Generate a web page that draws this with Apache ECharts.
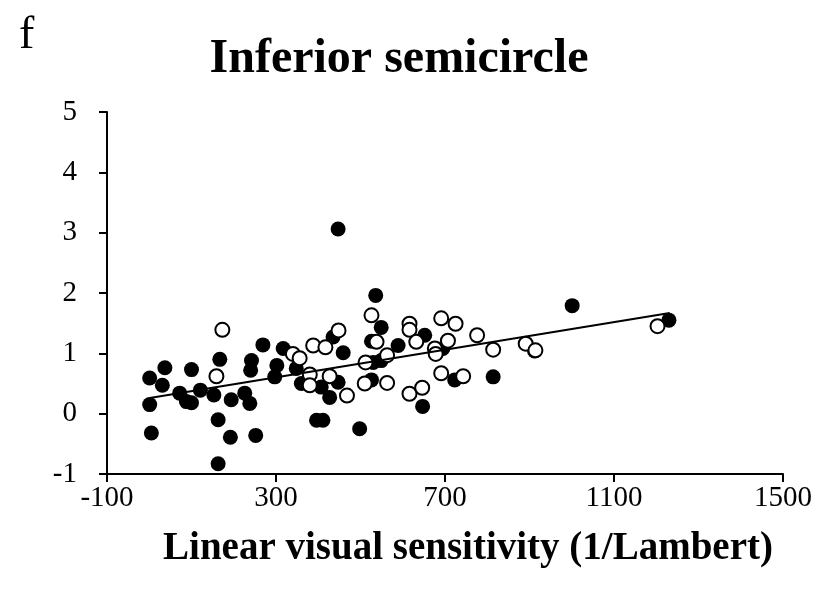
<!DOCTYPE html>
<html>
<head>
<meta charset="utf-8">
<script src="https://cdn.jsdelivr.net/npm/echarts@6/dist/echarts.min.js"></script>
<style>
  html, body { margin: 0; padding: 0; background: #fff; }
  #chart { width: 837px; height: 589px; }
</style>
</head>
<body>
<div id="chart"></div>
<script>
// filled circles
const filledX = [1, 37, 31, 1, 5, 100, 72, 88, 100, 121, 167, 153, 163, 192, 163, 194, 226, 238, 242, 240,
  252, 269, 302, 297, 317, 348, 360, 407, 447, 427, 396, 411, 498, 435, 459, 447, 536, 549, 526, 589,
  530, 549, 652, 695, 526, 647, 723, 814, 1001, 1230, 912]
const filledY = [0.59, 0.76, 0.47, 0.15, -0.32, 0.73, 0.34, 0.20, 0.18, 0.39, 0.90, 0.31, -0.10, -0.39, -0.83, 0.23, 0.34, 0.17, 0.88, 0.72,
  -0.36, 1.14, 0.80, 0.61, 1.08, 0.75, 0.50, 0.44, 0.52, 0.27, -0.11, -0.11, -0.25, 1.27, 1.01, 3.06, 1.96, 1.43, 1.20, 1.13,
  0.85, 0.88, 1.30, 1.08, 0.56, 0.12, 0.56, 0.61, 1.79, 1.55, 1.04]

// open circles
const openX = [173, 159, 340, 356, 388, 417, 448, 380, 380, 427, 468, 512, 510, 526, 538, 563, 616, 616, 632, 691,
  725, 707, 676, 678, 776, 563, 616, 646, 691, 743, 814, 891, 914, 1203]
const openY = [1.39, 0.62, 0.99, 0.92, 1.13, 1.10, 1.38, 0.65, 0.47, 0.62, 0.30, 0.85, 0.50, 1.63, 1.19, 0.97, 1.49, 1.39, 1.19, 1.58,
  1.49, 1.21, 1.08, 0.99, 1.30, 0.51, 0.33, 0.43, 0.67, 0.62, 1.06, 1.16, 1.05, 1.45]

// linear trend line end points
const trendX = [1, 1232]
const trendY = [0.26, 1.67]

const serif = '"Liberation Serif", "DejaVu Serif", serif'

const chart = echarts.init(document.getElementById('chart'))

chart.setOption({
  animation: false,
  backgroundColor: '#fff',
  title: [{
    text: 'f',
    left: 14,
    top: 8,
    textStyle: { fontFamily: serif, fontSize: 46, fontWeight: 'normal', color: '#000' }
  }, {
    text: 'Inferior semicircle',
    left: 394,
    top: 31,
    textAlign: 'center',
    textStyle: { fontFamily: serif, fontSize: 48, fontWeight: 'bold', color: '#000' }
  }],
  grid: {
    left: 107,
    right: 54,
    top: 112,
    bottom: 115
  },
  xAxis: {
    type: 'value',
    min: -100,
    max: 1500,
    interval: 400,
    name: 'Linear visual sensitivity (1/Lambert)',
    nameLocation: 'middle',
    nameGap: 55,
    nameTextStyle: { fontFamily: serif, fontSize: 39, fontWeight: 'bold', color: '#000', padding: [0, 0, 0, 46] },
    axisLine: { onZero: false, lineStyle: { color: '#000', width: 2 } },
    axisTick: { show: true, length: 8, lineStyle: { color: '#000', width: 2 } },
    axisLabel: { fontFamily: serif, fontSize: 29, color: '#000', margin: 10, formatter: v => String(v) },
    splitLine: { show: false }
  },
  yAxis: {
    type: 'value',
    min: -1,
    max: 5,
    interval: 1,
    axisLine: { show: true, onZero: false, lineStyle: { color: '#000', width: 2 } },
    axisTick: { show: true, length: 8, lineStyle: { color: '#000', width: 2 } },
    axisLabel: { fontFamily: serif, fontSize: 29, color: '#000', margin: 30 },
    splitLine: { show: false }
  },
  series: [{
    name: 'filled',
    type: 'scatter',
    data: filledX.map((x, i) => [x, filledY[i]]),
    symbol: 'circle',
    symbolSize: 15,
    itemStyle: { color: '#000', opacity: 1 },
    z: 2
  }, {
    name: 'open',
    type: 'scatter',
    data: openX.map((x, i) => [x, openY[i]]),
    symbol: 'circle',
    symbolSize: 14,
    itemStyle: { color: '#fff', borderColor: '#000', borderWidth: 2, opacity: 1 },
    z: 3
  }, {
    name: 'trend',
    type: 'line',
    data: trendX.map((x, i) => [x, trendY[i]]),
    symbol: 'none',
    lineStyle: { color: '#000', width: 2 },
    z: 4
  }]
})
</script>
</body>
</html>
